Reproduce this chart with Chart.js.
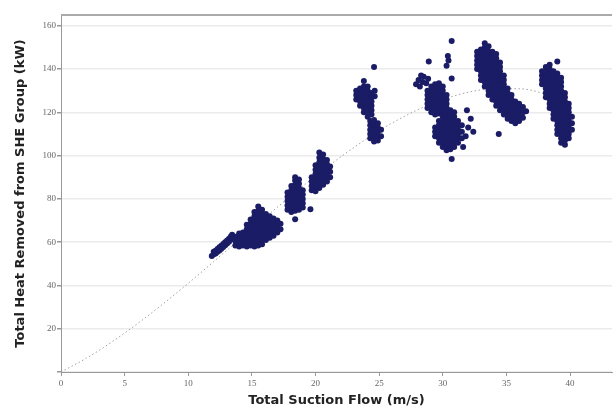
<!DOCTYPE html>
<html>
<head>
<meta charset="utf-8">
<script src="https://cdn.jsdelivr.net/npm/chart.js@4.4.1/dist/chart.umd.min.js"></script>
<style>
  html, body { margin: 0; padding: 0; background: #ffffff; }
  #wrap { width: 616px; height: 409px; }
</style>
</head>
<body>
<div id="wrap"><canvas id="heatChart" width="616" height="409"></canvas></div>
<script>
// ---- fitted trend line ----
const curveX = [0, 2, 4, 6, 8, 10, 12, 14, 16, 18, 20, 22, 24, 26, 28, 30, 32, 34, 36, 38, 40];
const curveY = [0, 6.4, 13.9, 22.3, 31.4, 41.0, 51.0, 61.1, 71.2, 81.1, 90.6, 99.5, 107.7, 115.0, 121.1, 125.9, 129.3, 130.9, 130.9, 128.6, 124.2];

// ---- measured points, one list per cluster: [flow, [heat values at that flow]] ----
const cluster12 = [
    [11.85, [53.6]], [12.0, [54.4, 55.6]], [12.15, [54.8, 56.0]], [12.3, [55.6, 56.8]],
    [12.45, [56.2, 57.6]], [12.6, [57.0, 58.4]], [12.75, [57.8, 59.2]], [12.9, [58.6, 60.0]],
    [13.05, [59.4, 60.8]], [13.2, [60.2, 61.6]], [13.35, [61.2, 62.6]], [13.45, [62.4, 63.4]]
];
const cluster15 = [
    [13.7, [58.5, 60.5, 62.5]],
    [14.0, [58, 60, 62, 64]],
    [14.3, [58.5, 60.5, 62.5, 64.5]],
    [14.6, [58, 60, 62, 64, 66, 68]],
    [14.9, [58.5, 60.5, 62.5, 64.5, 66.5, 68.5, 70.5]],
    [15.2, [58, 60, 62, 64, 66, 68, 70, 72, 74]],
    [15.5, [58.5, 60.5, 62.5, 64.5, 66.5, 68.5, 70.5, 72.5, 74.5, 76.5]],
    [15.8, [59, 61, 63, 65, 67, 69, 71, 73, 75]],
    [16.1, [61, 63, 65, 67, 69, 71, 73]],
    [16.4, [62, 64, 66, 68, 70, 72]],
    [16.7, [63, 65, 67, 69, 71]],
    [17.0, [64.5, 66.5, 68.5, 70]],
    [17.25, [66, 68.5]]
];
const cluster18 = [
    [17.8, [75, 77, 79, 81, 83]],
    [18.1, [74, 76, 78, 80, 82, 84, 86]],
    [18.4, [74.5, 76.5, 78.5, 80.5, 82.5, 84.5, 86.5, 88.5, 90]],
    [18.7, [75, 77, 79, 81, 83, 85, 87, 89]],
    [19.0, [76, 78, 80, 82, 84]]
];
const cluster20 = [
    [19.7, [84, 86, 88, 90]],
    [20.0, [83.5, 85.5, 87.5, 89.5, 91.5, 93.5, 95.5]],
    [20.3, [85, 87, 89, 91, 93, 95, 97, 99, 101.5]],
    [20.6, [86.5, 88.5, 90.5, 92.5, 94.5, 96.5, 98.5, 100.5]],
    [20.9, [88, 90, 92, 94, 96, 98]],
    [21.15, [90, 92.5, 95]]
];
const cluster24 = [
    [23.2, [126, 128, 130]],
    [23.5, [123, 125, 127, 129, 131]],
    [23.8, [120, 122, 124, 126, 128, 130, 132, 134.5]],
    [24.1, [118, 120, 122, 124, 126, 128, 130, 132]],
    [24.4, [119, 121, 123, 125, 127, 129]],
    [24.65, [127.5, 130]],
    [24.3, [108, 110, 112, 114, 116]],
    [24.6, [106.5, 108.5, 110.5, 112.5, 114.5, 116.5]],
    [24.9, [107, 109, 111, 113, 115]],
    [25.15, [109, 112]]
];
const cluster29 = [
    [27.9, [133]], [28.1, [135]], [28.2, [132]], [28.4, [134]], [28.5, [136.5]],
    [28.7, [133.5]], [28.85, [135.5]], [28.3, [137]],
    [28.8, [122, 124, 126, 128, 130]],
    [29.1, [120, 122, 124, 126, 128, 130, 132]],
    [29.4, [119, 121, 123, 125, 127, 129, 131, 133]],
    [29.7, [119.5, 121.5, 123.5, 125.5, 127.5, 129.5, 131.5, 133.5]],
    [30.0, [120, 122, 124, 126, 128, 130, 132]],
    [30.3, [122, 124, 126, 128]]
];
const cluster31 = [
    [29.4, [109, 111, 113]],
    [29.7, [106, 108, 110, 112, 114, 116]],
    [30.0, [104, 106, 108, 110, 112, 114, 116, 118]],
    [30.3, [102.5, 104.5, 106.5, 108.5, 110.5, 112.5, 114.5, 116.5, 118.5, 120.5]],
    [30.6, [103, 105, 107, 109, 111, 113, 115, 117, 119, 121]],
    [30.9, [104, 106, 108, 110, 112, 114, 116, 118, 120]],
    [31.2, [106, 108, 110, 112, 114, 116]],
    [31.5, [108, 111, 114]]
];
const cluster34 = [
    [32.7, [140, 142, 144, 146, 148]],
    [33.0, [135, 137, 139, 141, 143, 145, 147, 149]],
    [33.3, [132, 134, 136, 138, 140, 142, 144, 146, 148, 150, 152]],
    [33.6, [128, 130, 132, 134, 136, 138, 140, 142, 144, 146, 148, 150.5]],
    [33.9, [126, 128, 130, 132, 134, 136, 138, 140, 142, 144, 146, 148]],
    [34.2, [123, 125, 127, 129, 131, 133, 135, 137, 139, 141, 143, 145, 147]],
    [34.5, [121, 123, 125, 127, 129, 131, 133, 135, 137, 139, 141, 143]],
    [34.8, [119, 121, 123, 125, 127, 129, 131, 133, 135, 137]],
    [35.1, [117, 119, 121, 123, 125, 127, 129, 131]],
    [35.4, [116, 118, 120, 122, 124, 126, 128]],
    [35.7, [115, 117, 119, 121, 123, 125]],
    [36.0, [116, 118, 120, 122, 124]],
    [36.3, [117.5, 120, 122.5]],
    [36.55, [120.5]]
];
const cluster39 = [
    [37.8, [133, 135, 137, 139]],
    [38.1, [127, 129, 131, 133, 135, 137, 139, 141]],
    [38.4, [122, 124, 126, 128, 130, 132, 134, 136, 138, 140, 142]],
    [38.7, [117, 119, 121, 123, 125, 127, 129, 131, 133, 135, 137, 139]],
    [39.0, [110, 112, 114, 116, 118, 120, 122, 124, 126, 128, 130, 132, 134, 136, 138]],
    [39.3, [106, 108, 110, 112, 114, 116, 118, 120, 122, 124, 126, 128, 130, 132, 134, 136]],
    [39.6, [105, 107, 109, 111, 113, 115, 117, 119, 121, 123, 125, 127, 129]],
    [39.9, [108, 110, 112, 114, 116, 118, 120, 122, 124]],
    [40.15, [112, 115, 118]]
];
// single readings away from the clusters
const strayPoints = [
    [18.4, 70.6], [19.6, 75.2], [24.6, 141], [30.7, 153], [28.9, 143.5], [30.3, 141.5],
    [30.45, 144], [30.4, 146], [30.7, 135.6], [30.7, 98.5], [31.8, 109], [32.0, 113],
    [32.2, 117], [31.9, 121], [32.4, 111], [31.6, 104], [34.4, 110], [39.0, 143.5]
];

const clusters = [cluster12, cluster15, cluster18, cluster20, cluster24, cluster29, cluster31, cluster34, cluster39];
const scatterPoints = clusters
    .flatMap(c => c.flatMap(([x, ys]) => ys.map(y => ({ x: x, y: y }))))
    .concat(strayPoints.map(([x, y]) => ({ x: x, y: y })));
const curvePoints = curveX.map((x, i) => ({ x: x, y: curveY[i] }));

// gray frame line along the top of the plot
const topBorder = {
    id: 'topBorder',
    afterDraw(chart) {
        const { ctx, chartArea } = chart;
        ctx.save();
        ctx.strokeStyle = '#aaaaaa';
        ctx.lineWidth = 2;
        ctx.beginPath();
        ctx.moveTo(chartArea.left, chartArea.top);
        ctx.lineTo(chartArea.right, chartArea.top);
        ctx.stroke();
        ctx.restore();
    }
};

const tickFont = { family: 'Liberation Serif', size: 9 };
const titleFont = { family: 'DejaVu Sans', size: 13, weight: 'bold' };

new Chart(document.getElementById('heatChart'), {
    type: 'scatter',
    data: {
        datasets: [
            {
                label: 'Fit',
                data: curvePoints,
                showLine: true,
                borderColor: '#a0a0a0',
                borderWidth: 1,
                borderDash: [1.5, 2.5],
                pointRadius: 0,
                cubicInterpolationMode: 'monotone',
                order: 2
            },
            {
                label: 'Measured',
                data: scatterPoints,
                backgroundColor: '#1b1c66',
                borderColor: '#1b1c66',
                borderWidth: 0,
                pointRadius: 3,
                order: 1
            }
        ]
    },
    options: {
        responsive: false,
        animation: false,
        layout: { padding: { top: 15, right: 0, left: 0, bottom: 0 } },
        plugins: {
            legend: { display: false },
            tooltip: { enabled: false }
        },
        scales: {
            x: {
                type: 'linear',
                min: 0,
                max: 43.3,
                afterFit: s => { s.height = 37; },
                ticks: {
                    stepSize: 5,
                    includeBounds: false,
                    maxRotation: 0,
                    padding: 2,
                    color: '#666',
                    font: tickFont
                },
                grid: { drawOnChartArea: false, tickLength: 4, tickColor: '#999' },
                border: { color: '#999', width: 1 },
                title: {
                    display: true,
                    text: 'Total Suction Flow (m/s)',
                    color: '#222',
                    font: titleFont,
                    padding: { top: 0, bottom: 1 }
                }
            },
            y: {
                type: 'linear',
                min: 0,
                max: 165,
                afterFit: s => { s.width = 61; },
                ticks: {
                    stepSize: 20,
                    includeBounds: false,
                    padding: 1,
                    color: '#666',
                    font: tickFont,
                    callback: v => (v === 0 ? '' : v)
                },
                grid: { color: '#ebebeb', lineWidth: 1.5, tickLength: 4, tickColor: '#999' },
                border: { color: '#999', width: 1 },
                title: {
                    display: true,
                    text: 'Total Heat Removed from SHE Group (kW)',
                    color: '#222',
                    font: titleFont,
                    padding: { top: 13, bottom: 0 }
                }
            }
        }
    },
    plugins: [topBorder]
});
</script>
</body>
</html>
